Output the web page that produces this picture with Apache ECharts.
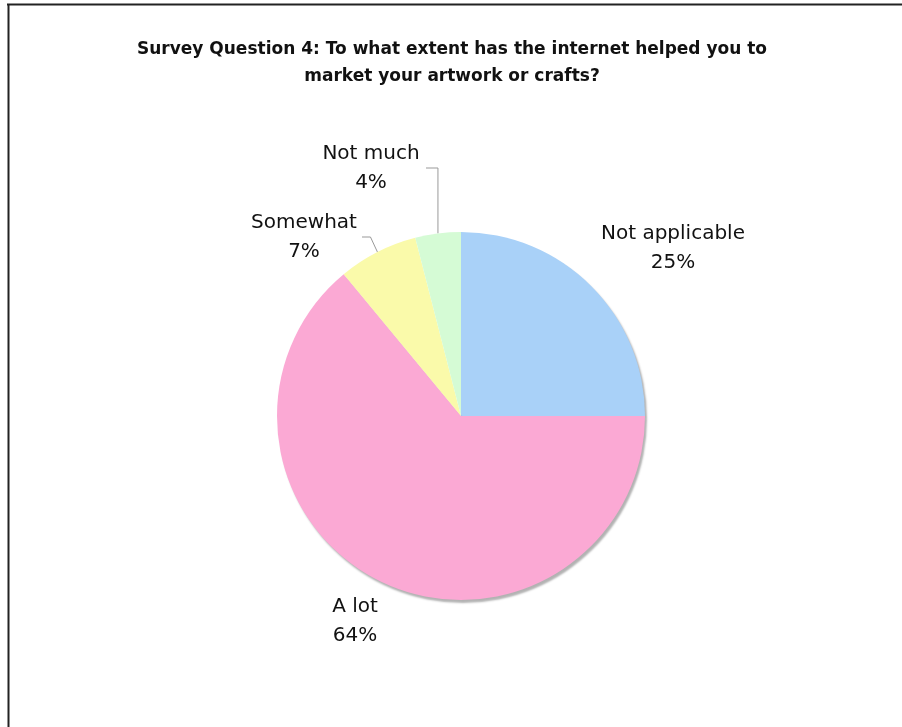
<!DOCTYPE html>
<html>
<head>
<meta charset="utf-8">
<style>
  html, body { margin: 0; padding: 0; background: #fff; }
  #chart { width: 902px; height: 727px; }
</style>
<script src="https://cdn.jsdelivr.net/npm/echarts@6/dist/echarts.min.js"></script>
</head>
<body>
<div id="chart"></div>
<script>
// Survey answers, in clockwise order from 12 o'clock
var categories = ['Not applicable', 'A lot', 'Somewhat', 'Not much'];
var percents = [25, 64, 7, 4];
var colors = ['#A9D1F8', '#FBA9D4', '#FAFAAA', '#D5FBD5'];

var titleLines = [
  'Survey Question 4: To what extent has the internet helped you to',
  'market your artwork or crafts?'
];

// Where each two-line label sits, and whether it gets a leader line
var labelSpots = {
  'Not applicable': { x: 673, y: 248 },
  'A lot':          { x: 355, y: 621 },
  'Somewhat':       { x: 304, y: 237, elbowY: 237, endX: 362 },
  'Not much':       { x: 371, y: 168, elbowY: 168, endX: 426, vertical: true }
};

// Only the outer slices carry the drop shadow, so it shows as a rim on the lower right
var shadowed = { 'Not applicable': true, 'A lot': true };

var chart = echarts.init(document.getElementById('chart'));

chart.setOption({
  animation: false,
  backgroundColor: '#fff',
  title: {
    text: titleLines.join('\n'),
    left: 447,
    top: 31,
    textAlign: 'center',
    textStyle: {
      fontFamily: 'DejaVu Sans',
      fontWeight: 'bold',
      fontSize: 17,
      lineHeight: 27,
      color: '#111'
    }
  },
  graphic: [
    { type: 'line', shape: { x1: 7, y1: 4.5, x2: 902, y2: 4.5 }, style: { stroke: '#222', lineWidth: 2 } },
    { type: 'line', shape: { x1: 8.5, y1: 4, x2: 8.5, y2: 727 }, style: { stroke: '#222', lineWidth: 2 } }
  ],
  series: [{
    type: 'pie',
    center: [461, 416],
    radius: [0, 184],
    startAngle: 90,
    clockwise: true,
    silent: true,
    data: categories.map(function (name, i) {
      var style = { color: colors[i], borderWidth: 0 };
      if (shadowed[name]) {
        style.shadowColor = 'rgba(0,0,0,0.3)';
        style.shadowBlur = 2;
        style.shadowOffsetX = 2;
        style.shadowOffsetY = 3;
      }
      return { name: name, value: percents[i], itemStyle: style };
    }),
    label: {
      show: true,
      position: 'outside',
      formatter: '{b}\n{d}%',
      fontFamily: 'DejaVu Sans',
      fontSize: 20,
      lineHeight: 29,
      color: '#111',
      align: 'center'
    },
    labelLine: {
      show: true,
      lineStyle: { color: '#999', width: 1 }
    },
    labelLayout: function (params) {
      var name = categories[params.dataIndex];
      var spot = labelSpots[name];
      var out = { x: spot.x, y: spot.y, align: 'center', verticalAlign: 'middle' };
      var pts = params.labelLinePoints;
      if (spot.endX != null && pts && pts.length) {
        var a = pts[0];
        var mid = spot.vertical ? [a[0], spot.elbowY] : [a[0] - 7, spot.elbowY];
        out.labelLinePoints = [a, mid, [spot.endX, spot.elbowY]];
      } else {
        out.labelLinePoints = pts ? [pts[0], pts[0], pts[0]] : undefined;
      }
      return out;
    }
  }]
});
</script>
</body>
</html>
